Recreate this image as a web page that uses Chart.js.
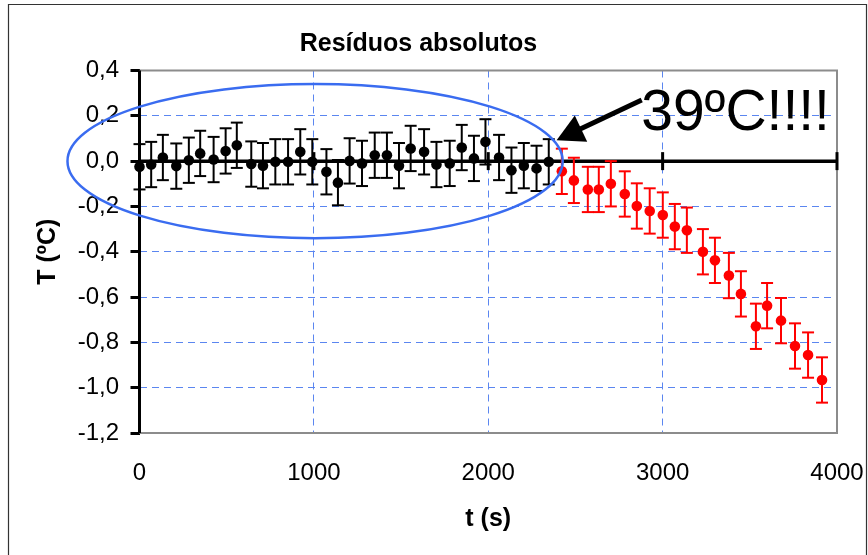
<!DOCTYPE html>
<html>
<head>
<meta charset="utf-8">
<script src="https://cdn.jsdelivr.net/npm/chart.js@4/dist/chart.umd.min.js"></script>
<style>
html,body{margin:0;padding:0;background:#fff;}
#wrap{width:868px;height:555px;position:relative;}
</style>
</head>
<body>
<div id="wrap"><canvas id="c" width="868" height="555"></canvas></div>
<script>
// ---------- text ----------
const titleText = 'Resíduos absolutos';
const xTitle = 't (s)';
const yTitle = 'T (ºC)';
const noteText = '39ºC!!!!';

// ---------- ticks ----------
const xTicks = [0, 1000, 2000, 3000, 4000];
const xTickLabels = ['0', '1000', '2000', '3000', '4000'];
const yTicks = [0.4, 0.2, 0, -0.2, -0.4, -0.6, -0.8, -1.0, -1.2];
const yTickLabels = ['0,4', '0,2', '0,0', '-0,2', '-0,4', '-0,6', '-0,8', '-1,0', '-1,2'];

// ---------- data ----------
const timesBlack = [0, 67, 134, 211, 283, 348, 425, 494, 558, 641, 708, 779, 852, 922, 991, 1072, 1138,
  1205, 1276, 1349, 1419, 1488, 1555, 1632, 1703, 1779, 1848, 1918, 1984, 2062, 2133, 2204, 2277, 2347];
const resBlack = [-0.025, -0.015, 0.016, -0.022, 0.004, 0.034, 0.007, 0.045, 0.070, -0.013, -0.020, -0.003,
  -0.003, 0.041, -0.003, -0.047, -0.095, 0.001, -0.010, 0.026, 0.026, -0.020, 0.056, 0.041, -0.015, -0.010,
  0.060, 0.012, 0.085, 0.016, -0.040, -0.020, -0.032, -0.003];
const timesRed = [2422, 2491, 2571, 2634, 2703, 2783, 2852, 2926, 3001, 3070, 3139, 3231, 3300, 3380, 3449,
  3535, 3599, 3679, 3759, 3834, 3914];
const resRed = [-0.045, -0.085, -0.125, -0.125, -0.100, -0.145, -0.198, -0.220, -0.238, -0.289, -0.305,
  -0.400, -0.438, -0.505, -0.586, -0.729, -0.638, -0.704, -0.816, -0.856, -0.966];
const errorBar = 0.1;

// ---------- annotations (in data units) ----------
const ellipseCenter = [1007, 0.0];
const ellipseRadii = [1420, 0.34];
const arrowTail = [2880, 0.27];
const arrowTip = [2392, 0.092];
const noteAnchor = [2877, 0.137];

const FONT = "'Liberation Sans', Arial, Helvetica, sans-serif";
Chart.defaults.font.family = FONT;
Chart.defaults.color = '#000';

const GRID = '#5b86f0';
const isEdgeY = v => Math.abs(v - 0.4) < 1e-9 || Math.abs(v + 1.2) < 1e-9 || Math.abs(v) < 1e-9;
const isEdgeX = v => v === 0 || v === 4000;

function line(ctx, x1, y1, x2, y2) { ctx.beginPath(); ctx.moveTo(x1, y1); ctx.lineTo(x2, y2); ctx.stroke(); }

const decor = {
  id: 'decor',
  beforeDatasetsDraw(chart) {
    const {ctx, chartArea: a, scales: {x, y}} = chart;
    ctx.save();
    // plot frame
    ctx.strokeStyle = '#8c8c8c'; ctx.lineWidth = 2;
    ctx.beginPath(); ctx.moveTo(a.left, a.top); ctx.lineTo(a.right, a.top); ctx.lineTo(a.right, a.bottom); ctx.lineTo(a.left, a.bottom); ctx.stroke();
    // y axis line
    ctx.strokeStyle = '#000'; ctx.lineWidth = 3;
    line(ctx, a.left, a.top, a.left, a.bottom);
    // zero line with crossing tick marks
    const y0 = y.getPixelForValue(0);
    ctx.lineWidth = 3.5;
    line(ctx, a.left, y0, a.right, y0);
    ctx.lineWidth = 3;
    xTicks.forEach(v => { const px = x.getPixelForValue(v); line(ctx, px, y0 - 9, px, y0 + 9); });
    // error bars
    chart.data.datasets.forEach(ds => {
      ctx.strokeStyle = ds.borderColor; ctx.lineWidth = 2;
      ds.data.forEach(p => {
        const px = x.getPixelForValue(p.x);
        const yt = y.getPixelForValue(p.y + errorBar);
        const yb = y.getPixelForValue(p.y - errorBar);
        line(ctx, px, yt, px, yb);
        line(ctx, px - 6, yt, px + 6, yt);
        line(ctx, px - 6, yb, px + 6, yb);
      });
    });
    ctx.restore();
  },
  afterDatasetsDraw(chart) {
    const {ctx, scales: {x, y}} = chart;
    ctx.save();
    // ellipse
    const cx = x.getPixelForValue(ellipseCenter[0]);
    const cy = y.getPixelForValue(ellipseCenter[1]);
    const rx = x.getPixelForValue(ellipseCenter[0] + ellipseRadii[0]) - cx;
    const ry = cy - y.getPixelForValue(ellipseCenter[1] + ellipseRadii[1]);
    ctx.strokeStyle = '#3a6cf0'; ctx.lineWidth = 2.5;
    ctx.beginPath(); ctx.ellipse(cx, cy, rx, ry, 0, 0, Math.PI * 2); ctx.stroke();
    // arrow
    const tx = x.getPixelForValue(arrowTail[0]), ty = y.getPixelForValue(arrowTail[1]);
    const hx = x.getPixelForValue(arrowTip[0]), hy = y.getPixelForValue(arrowTip[1]);
    const len = Math.hypot(hx - tx, hy - ty);
    const ux = (hx - tx) / len, uy = (hy - ty) / len;
    const L = 27, W = 14.5;
    const bx = hx - L * ux, by = hy - L * uy;
    ctx.strokeStyle = '#000'; ctx.fillStyle = '#000'; ctx.lineWidth = 5;
    line(ctx, tx, ty, bx + 2 * ux, by + 2 * uy);
    ctx.beginPath();
    ctx.moveTo(hx, hy);
    ctx.lineTo(bx - W * uy, by + W * ux);
    ctx.lineTo(bx + W * uy, by - W * ux);
    ctx.closePath(); ctx.fill();
    // note text
    ctx.font = '57px ' + FONT;
    ctx.textAlign = 'left'; ctx.textBaseline = 'alphabetic';
    ctx.fillText(noteText, x.getPixelForValue(noteAnchor[0]), y.getPixelForValue(noteAnchor[1]));
    ctx.restore();
  },
  afterDraw(chart) {
    const ctx = chart.ctx;
    ctx.save();
    ctx.strokeStyle = '#333'; ctx.lineWidth = 1.2;
    ctx.beginPath(); ctx.moveTo(8.5, 560); ctx.lineTo(8.5, 4.5); ctx.lineTo(866.5, 4.5); ctx.lineTo(866.5, 560); ctx.stroke();
    ctx.restore();
  }
};

new Chart(document.getElementById('c').getContext('2d'), {
  type: 'scatter',
  data: {
    datasets: [
      { data: timesBlack.map((t, i) => ({x: t, y: resBlack[i]})), backgroundColor: '#000', borderColor: '#000',
        pointRadius: 5.3, pointHoverRadius: 5.3, borderWidth: 0, clip: false },
      { data: timesRed.map((t, i) => ({x: t, y: resRed[i]})), backgroundColor: '#ff0000', borderColor: '#ff0000',
        pointRadius: 5.3, pointHoverRadius: 5.3, borderWidth: 0, clip: false }
    ]
  },
  options: {
    responsive: false, animation: false, devicePixelRatio: 1,
    events: [],
    layout: { padding: { left: 0, right: 31, top: 0, bottom: 0 } },
    plugins: {
      legend: { display: false },
      tooltip: { enabled: false },
      title: { display: true, text: titleText, color: '#000',
        font: { family: FONT, size: 25, weight: 'bold' }, padding: { top: 29, bottom: 11.5 } }
    },
    scales: {
      x: {
        type: 'linear', min: 0, max: 4000,
        afterBuildTicks: s => { s.ticks = xTicks.map(v => ({value: v})); },
        afterFit: s => { s.height = 122; s.paddingLeft = 0; s.paddingRight = 0; },
        ticks: { callback: (v, i) => xTickLabels[i], color: '#000', font: { family: FONT, size: 24 },
          padding: 26, maxRotation: 0, autoSkip: false },
        grid: { drawTicks: false, lineWidth: 1,
          color: c => (c.tick && isEdgeX(c.tick.value)) ? 'rgba(0,0,0,0)' : GRID },
        border: { display: false, dash: [7, 5] },
        title: { display: true, text: xTitle, color: '#000', font: { family: FONT, size: 25, weight: 'bold' },
          padding: { top: 0, bottom: 21 } }
      },
      y: {
        type: 'linear', min: -1.2, max: 0.4,
        afterBuildTicks: s => { s.ticks = yTicks.map(v => ({value: v})); },
        afterFit: s => { s.width = 139.5; s.paddingTop = 0; s.paddingBottom = 0; },
        ticks: { callback: (v, i) => yTickLabels[i], color: '#000', font: { family: FONT, size: 24 },
          padding: 11.5, autoSkip: false },
        grid: { lineWidth: 1, tickLength: 9, tickWidth: 3, tickColor: '#000',
          color: c => (c.tick && isEdgeY(c.tick.value)) ? 'rgba(0,0,0,0)' : GRID },
        border: { display: false, dash: [7, 5] },
        title: { display: true, text: yTitle, color: '#000', font: { family: FONT, size: 25, weight: 'bold' },
          padding: { top: 33, bottom: 0 } }
      }
    }
  },
  plugins: [decor]
});
</script>
</body>
</html>
